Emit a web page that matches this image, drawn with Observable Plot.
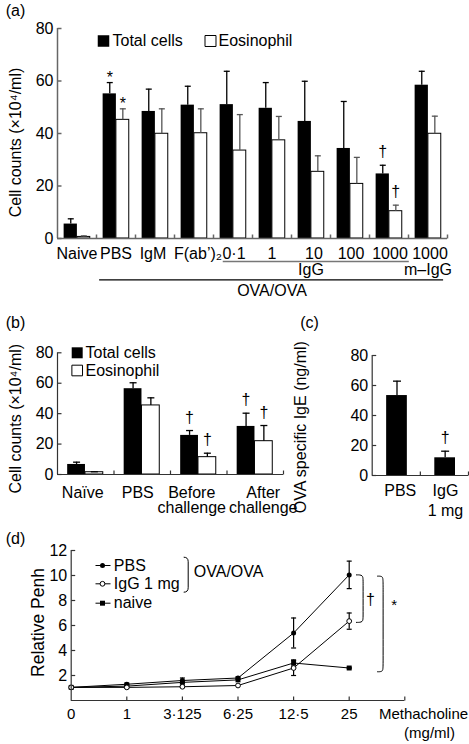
<!DOCTYPE html>
<html><head><meta charset="utf-8">
<script src="https://cdn.jsdelivr.net/npm/d3@7"></script>
<script src="https://cdn.jsdelivr.net/npm/@observablehq/plot@0.6"></script>
<style>
body{margin:0;background:#fff;}
#wrap{position:relative;width:469px;height:744px;overflow:hidden;background:#fff;font-family:"Liberation Sans",Arial,Helvetica,sans-serif;}
</style></head><body><div id="wrap"></div>
<script>
// ---------- DATA ----------
// Panel (a)
const groupsA = ["Naive","PBS","IgM","F(ab’)₂","0·1","1","10","100","1000","1000"];
const totalA    = [5.5, 55.1, 48.4, 50.8, 51.0, 49.6, 44.6, 34.3, 24.6, 58.4];
const totalErrA = [2.0, 4.3, 8.5, 7.2, 12.7, 9.8, 15.3, 17.9, 3.3, 5.3];
const eosA      = [0.6, 45.2, 39.9, 40.1, 33.5, 37.4, 25.4, 20.8, 10.4, 39.9];
const eosErrA   = [0.4, 4.2, 9.5, 9.3, 13.7, 9.1, 6.1, 10.1, 2.3, 6.7];
const sigA = [{i:1, s:"total", m:"*"}, {i:1, s:"eos", m:"*"}, {i:8, s:"total", m:"†"}, {i:8, s:"eos", m:"†"}];
const yTicksA = [0, 20, 40, 60, 80];

// Panel (b)
const groupsB = ["Naïve","PBS","Before\nchallenge","After\nchallenge"];
const totalB    = [6.6, 56.4, 25.7, 31.6];
const totalErrB = [1.5, 3.9, 3.2, 8.7];
const eosB      = [1.5, 45.4, 11.4, 21.9];
const eosErrB   = [0.3, 5.0, 2.6, 10.3];
const sigB = [{i:2, s:"total", m:"†"}, {i:2, s:"eos", m:"†"}, {i:3, s:"total", m:"†"}, {i:3, s:"eos", m:"†"}];
const yTicksB = [0, 20, 40, 60, 80];

// Panel (c)
const groupsC = ["PBS","IgG\n1 mg"];
const igeC    = [53.3, 11.8];
const igeErrC = [9.6, 4.4];
const sigC = [{i:1, m:"†"}];
const yTicksC = [0, 20, 40, 60, 80];

// Panel (d)
const dosesD = ["0","1","3·125","6·25","12·5","25"];
const pbsD     = [1.05, 1.3, 1.6, 1.8, 5.4, 10.05];
const pbsErrD  = [0, 0.1, 0.2, 0.1, 1.2, 1.1];
const iggD     = [1.05, 1.05, 1.1, 1.2, 2.6, 6.35];
const iggErrD  = [0, 0, 0.05, 0, 0.6, 0.65];
const naiveD   = [1.05, 1.15, 1.45, 1.65, 3.0, 2.6];
const naiveErrD= [0, 0, 0, 0, 0.25, 0.05];
const yTicksD = [2, 4, 6, 8, 10, 12];

// ---------- HELPERS ----------
const FONT = '"Liberation Sans", Arial, Helvetica, sans-serif';
const wrap = document.getElementById("wrap");
function place(svg, left, top){
  svg.style.position = "absolute";
  svg.style.left = left + "px";
  svg.style.top = top + "px";
  svg.style.overflow = "visible";
  wrap.appendChild(svg);
}
const tickUp = len => ({draw(c){ c.moveTo(0,0); c.lineTo(0,-len); }});
const tickRight = len => ({draw(c){ c.moveTo(0,0); c.lineTo(len,0); }});
const hcap = w => ({draw(c){ c.moveTo(-w,0); c.lineTo(w,0); }});
const hline = w => ({draw(c){ c.moveTo(-w,0); c.lineTo(w,0); }});
const curlyRight = (h, w) => ({draw(c){
  c.moveTo(-w, -h/2);
  c.quadraticCurveTo(0, -h/2, 0, -h/2 + w);
  c.lineTo(0, h/2 - w);
  c.quadraticCurveTo(0, h/2, -w, h/2);
}});
function rowsOf(groups, total, totalErr, eos, eosErr){
  return groups.map((g,i)=>({i, g, total: total[i], totalErr: totalErr[i], eos: eos[i], eosErr: eosErr[i]}));
}
function style(fs){ return {background:"none", overflow:"visible", fontFamily: FONT, fontSize: fs + "px", color:"black"}; }
// legend / free text anchored to the frame, centred vertically on its dy
const ftext = (t, o) => Plot.text([t], {frameAnchor: "top-left", textAnchor: "start", lineAnchor: "middle", text: d=>d, ...o});

function groupedBars(rows, T, E, capW, totColor, eosColor){
  const tc = d => d.i + (T[0]+T[1])/2, ec = d => d.i + (E[0]+E[1])/2;
  return [
    Plot.rect(rows, {x1: d=>d.i+T[0], x2: d=>d.i+T[1], y1: d=>0, y2: "total", fill: "black"}),
    Plot.rect(rows, {x1: d=>d.i+E[0], x2: d=>d.i+E[1], y1: d=>0, y2: "eos", fill: "white", stroke: "black", strokeWidth: 1}),
    Plot.ruleX(rows, {x: tc, y1: "total", y2: d=>d.total+d.totalErr, stroke: totColor, strokeWidth: 1.3}),
    Plot.dot(rows, {x: tc, y: d=>d.total+d.totalErr, symbol: hcap(capW), stroke: totColor, fill: "none", strokeWidth: 1.3}),
    Plot.ruleX(rows, {x: ec, y1: "eos", y2: d=>d.eos+d.eosErr, stroke: eosColor, strokeWidth: 1.3}),
    Plot.dot(rows, {x: ec, y: d=>d.eos+d.eosErr, symbol: hcap(capW), stroke: eosColor, fill: "none", strokeWidth: 1.3})
  ];
}
function axesMarks(yTicks, xTicks, color, width, withLabels = true){
  const m = [
    Plot.ruleX([0], {stroke: color, strokeWidth: width}),
    Plot.ruleY([0], {stroke: color, strokeWidth: width}),
    Plot.dot(yTicks, {y: d=>d, frameAnchor: "left", symbol: tickRight(4), stroke: color, fill: "none", strokeWidth: width}),
    Plot.dot(xTicks, {x: d=>d, y: d=>0, symbol: tickUp(4), stroke: color, fill: "none", strokeWidth: width})
  ];
  if (withLabels) m.push(Plot.text(yTicks, {y: d=>d, text: d=>String(d), frameAnchor: "left", dx: -4, textAnchor: "end", lineAnchor: "middle"}));
  return m;
}
const ylabel = (t, dx, dy, fs) => Plot.text([t], {frameAnchor: "left", dx, dy, rotate: -90, text: d=>d, textAnchor: "middle", lineAnchor: "middle", fontSize: fs});
const plabel = (t, dx, dy) => Plot.text([t], {frameAnchor: "top-left", dx, dy, text: d=>d, textAnchor: "middle", lineAnchor: "middle"});

// ---------- PANEL (a) ----------
{
  const rows = rowsOf(groupsA, totalA, totalErrA, eosA, eosErrA);
  const T = [0.17, 0.51], E = [0.51, 0.84];
  const labelShift = [0, 0, -2, 4, 1, 0, 3, 1, 1, 2];
  const sigPos = sigA.map(d => ({...d,
    x: d.i + (d.s === "total" ? (T[0]+T[1])/2 : (E[0]+E[1])/2),
    y: d.s === "total" ? totalA[d.i] + totalErrA[d.i] : eosA[d.i] + eosErrA[d.i]}));
  const iStart = groupsA.indexOf("0·1"), iEnd = groupsA.length - 2;
  const svg = Plot.plot({
    width: 469, height: 300,
    marginTop: 28, marginLeft: 57, marginRight: 22, marginBottom: 62,
    x: {domain: [0, groupsA.length], axis: null},
    y: {domain: [0, 80], axis: null},
    style: style(16),
    marks: [
      ...groupedBars(rows, T, E, 3, "black", "#555"),
      ...axesMarks(yTicksA, d3.range(1, groupsA.length + 1), "#666", 1.5),
      Plot.text(sigPos.filter(d=>d.m==="*"), {x: "x", y: "y", text: "m", dy: -5}),
      Plot.text(sigPos.filter(d=>d.m==="†"), {x: "x", y: "y", text: "m", dy: -13}),
      ...rows.map((r,k) => Plot.text([r], {x: d=>d.i+0.5, y: d=>0, text: "g", dy: 15, dx: labelShift[k]})),
      Plot.ruleY([0], {x1: d=>iStart+0.25, x2: d=>iEnd+1.02, dy: 23, stroke: "#777", strokeWidth: 1.5}),
      Plot.text(["IgG"], {x: d=>(iStart+iEnd+1)/2, y: d=>0, text: d=>d, dy: 31}),
      Plot.text(["m–IgG"], {x: d=>groupsA.length-0.5, y: d=>0, text: d=>d, dy: 31}),
      Plot.ruleY([0], {x1: d=>1.08, x2: d=>groupsA.length-0.1, dy: 41.3, stroke: "black", strokeWidth: 1.2}),
      Plot.text(["OVA/OVA"], {x: d=>(1+groupsA.length)/2, y: d=>0, text: d=>d, dy: 52}),
      // legend
      Plot.dot([0], {frameAnchor: "top-left", dx: 46, dy: 12.5, symbol: "square", r: 6.5, fill: "black"}),
      ftext("Total cells", {dx: 55, dy: 12.5}),
      Plot.dot([0], {frameAnchor: "top-left", dx: 153, dy: 12.5, symbol: "square", r: 6.2, fill: "white", stroke: "black", strokeWidth: 1}),
      ftext("Eosinophil", {dx: 161, dy: 12.5}),
      ylabel("Cell counts (×10⁴/ml)", -42, 9, 16),
      plabel("(a)", -42, -18)
    ]
  });
  place(svg, 0, 0);
}

// ---------- PANEL (b) ----------
{
  const rows = rowsOf(groupsB, totalB, totalErrB, eosB, eosErrB);
  const T = [0.18, 0.495], E = [0.495, 0.81];
  const labelShift = [-3, -4.5, -7, 8];
  const sigPos = sigB.map(d => ({...d,
    x: d.i + (d.s === "total" ? (T[0]+T[1])/2 : (E[0]+E[1])/2),
    y: d.s === "total" ? totalB[d.i] + totalErrB[d.i] : eosB[d.i] + eosErrB[d.i]}));
  const svg = Plot.plot({
    width: 300, height: 215,
    marginTop: 47.3, marginLeft: 57, marginRight: 17, marginBottom: 46,
    x: {domain: [0, groupsB.length], axis: null},
    y: {domain: [0, 80], axis: null},
    style: style(16),
    marks: [
      ...groupedBars(rows, T, E, 3.5, "black", "black"),
      ...axesMarks(yTicksB, d3.range(1, groupsB.length + 1), "#333", 1.2),
      Plot.text(sigPos, {x: "x", y: "y", text: "m", dy: -13}),
      ...rows.map((r, k) => Plot.text([r], {x: d=>d.i+0.5, y: d=>0, text: "g", lineAnchor: "top", lineHeight: 0.97, dy: 12, dx: labelShift[k]})),
      Plot.dot([0], {frameAnchor: "top-left", dx: 19.7, dy: 0, symbol: "square", r: 6.2, fill: "black"}),
      ftext("Total cells", {dx: 28, dy: 0}),
      Plot.dot([0], {frameAnchor: "top-left", dx: 19.7, dy: 17.7, symbol: "square", r: 6, fill: "white", stroke: "black", strokeWidth: 1}),
      ftext("Eosinophil", {dx: 28, dy: 17.7}),
      ylabel("Cell counts (×10⁴/ml)", -42, 5, 16),
      plabel("(b)", -42, -30)
    ]
  });
  place(svg, 0, 305);
}

// ---------- PANEL (c) ----------
{
  const rows = groupsC.map((g,i)=>({i, g, v: igeC[i], e: igeErrC[i]}));
  const B = [0.3, 0.73], bc = d => d.i + (B[0]+B[1])/2;
  const labelShift = [4, 1];
  const svg = Plot.plot({
    width: 179, height: 215,
    marginTop: 50, marginLeft: 81.7, marginRight: 1, marginBottom: 45,
    x: {domain: [0, groupsC.length], axis: null},
    y: {domain: [0, 80], axis: null},
    style: style(16),
    marks: [
      Plot.rect(rows, {x1: d=>d.i+B[0], x2: d=>d.i+B[1], y1: d=>0, y2: "v", fill: "black"}),
      Plot.ruleX(rows, {x: bc, y1: "v", y2: d=>d.v+d.e, stroke: "black", strokeWidth: 1.3}),
      Plot.dot(rows, {x: bc, y: d=>d.v+d.e, symbol: hcap(4), stroke: "black", fill: "none", strokeWidth: 1.3}),
      ...axesMarks(yTicksC, d3.range(1, groupsC.length + 1), "#333", 1.2),
      Plot.text(sigC, {x: d=>bc(d), y: d=>igeC[d.i]+igeErrC[d.i], text: "m", dy: -13}),
      ...rows.map((r, k) => Plot.text([r], {x: d=>d.i+0.5, y: d=>0, text: "g", lineAnchor: "top", lineHeight: 1.25, dy: 6.7, dx: labelShift[k]})),
      ylabel("OVA specific IgE (ng/ml)", -71.7, 11.7, 16),
      plabel("(c)", -62.7, -33)
    ]
  });
  place(svg, 290, 305);
}

// ---------- PANEL (d) ----------
{
  const mk = (vals, errs) => vals.map((v,i)=>({i, v, e: errs[i]}));
  const pbs = mk(pbsD, pbsErrD), igg = mk(iggD, iggErrD), naive = mk(naiveD, naiveErrD);
  const last = dosesD.length - 1;
  const bracket = (xa, xb, top, bottom, c) => [[xa,top],[xb,top],[xb,top-c],[xb,bottom+c],[xb,bottom],[xa,bottom]];
  const br1 = bracket(last+0.13, last+0.25, pbsD[last], iggD[last]-0.1, 0.45);
  const br2 = bracket(last+0.51, last+0.61, pbsD[last]-0.1, naiveD[last]-0.3, 0.45);
  const errMarks = (rows) => [
    Plot.ruleX(rows.filter(d=>d.e>0), {x: "i", y1: d=>d.v-d.e, y2: d=>d.v+d.e, stroke: "black", strokeWidth: 1.2}),
    Plot.dot(rows.filter(d=>d.e>0), {x: "i", y: d=>d.v+d.e, symbol: hcap(2.5), stroke: "black", fill: "none", strokeWidth: 1.2}),
    Plot.dot(rows.filter(d=>d.e>0), {x: "i", y: d=>d.v-d.e, symbol: hcap(2.5), stroke: "black", fill: "none", strokeWidth: 1.2})
  ];
  const svg = Plot.plot({
    width: 469, height: 219,
    marginTop: 25, marginLeft: 70.7, marginRight: 64.7, marginBottom: 44,
    x: {domain: [0, dosesD.length], axis: null},
    y: {domain: [0, 12], axis: null},
    style: style(15),
    marks: [
      ...errMarks(pbs), ...errMarks(igg), ...errMarks(naive),
      Plot.line(naive, {x: "i", y: "v", stroke: "black", strokeWidth: 1}),
      Plot.line(igg, {x: "i", y: "v", stroke: "black", strokeWidth: 1}),
      Plot.line(pbs, {x: "i", y: "v", stroke: "black", strokeWidth: 1}),
      Plot.dot(naive, {x: "i", y: "v", symbol: "square", r: 2.8, fill: "black", stroke: "none"}),
      Plot.dot(pbs, {x: "i", y: "v", symbol: "circle", r: 2.5, fill: "black", stroke: "none"}),
      Plot.dot(igg, {x: "i", y: "v", symbol: "circle", r: 2.4, fill: "white", stroke: "black", strokeWidth: 1}),
      ...axesMarks(yTicksD, d3.range(1, dosesD.length + 1), "#333", 1.2, false),
      Plot.text(yTicksD, {y: d=>d, text: d=>String(d), frameAnchor: "left", dx: -4, textAnchor: "end", lineAnchor: "middle", fontSize: 16}),
      Plot.text(dosesD, {x: (d,i)=>i, y: d=>0, text: d=>d, lineAnchor: "top", dy: 8}),
      Plot.text(["Methacholine"], {x: d=>dosesD.length, y: d=>0, text: d=>d, lineAnchor: "top", dy: 8, dx: 18.7}),
      Plot.text(["(mg/ml)"], {x: d=>dosesD.length, y: d=>0, text: d=>d, lineAnchor: "top", dy: 27, dx: 24.7}),
      // significance brackets
      Plot.line(br1, {x: d=>d[0], y: d=>d[1], curve: "basis", stroke: "black", strokeWidth: 1}),
      Plot.line(br2, {x: d=>d[0], y: d=>d[1], curve: "basis", stroke: "black", strokeWidth: 1}),
      Plot.text(["†"], {x: d=>last, y: d=>pbsD[last], text: d=>d, dx: 21.3, dy: 25, fontSize: 16}),
      Plot.text(["*"], {x: d=>last, y: d=>pbsD[last], text: d=>d, dx: 45, dy: 30, fontSize: 15}),
      // legend
      Plot.dot([0], {frameAnchor: "top-left", dx: 31.8, dy: 15, symbol: hline(7.5), stroke: "black", fill: "none", strokeWidth: 1}),
      Plot.dot([0], {frameAnchor: "top-left", dx: 31.3, dy: 15, symbol: "circle", r: 2.5, fill: "black", stroke: "none"}),
      Plot.dot([0], {frameAnchor: "top-left", dx: 31.8, dy: 33.3, symbol: hline(7.5), stroke: "black", fill: "none", strokeWidth: 1}),
      Plot.dot([0], {frameAnchor: "top-left", dx: 31.3, dy: 33.3, symbol: "circle", r: 2.4, fill: "white", stroke: "black", strokeWidth: 1}),
      Plot.dot([0], {frameAnchor: "top-left", dx: 31.8, dy: 52.7, symbol: hline(7.5), stroke: "black", fill: "none", strokeWidth: 1}),
      Plot.dot([0], {frameAnchor: "top-left", dx: 31.3, dy: 52.7, symbol: "square", r: 2.8, fill: "black", stroke: "none"}),
      ftext("PBS", {dx: 42.6, dy: 15, fontSize: 16}),
      ftext("IgG 1 mg", {dx: 42.6, dy: 33.3, fontSize: 16}),
      ftext("naive", {dx: 42.6, dy: 52.7, fontSize: 16}),
      Plot.dot([0], {frameAnchor: "top-left", dx: 117, dy: 24.2, symbol: curlyRight(35, 4.5), stroke: "black", fill: "none", strokeWidth: 1}),
      ftext("OVA/OVA", {dx: 122.6, dy: 21.7, fontSize: 16}),
      ylabel("Relative Penh", -32.7, -3, 17.5),
      Plot.text(["(d)"], {frameAnchor: "top-left", dx: -55.7, dy: -12, text: d=>d, textAnchor: "middle", lineAnchor: "middle", fontSize: 16})
    ]
  });
  place(svg, 0, 525);
}
</script></body></html>
